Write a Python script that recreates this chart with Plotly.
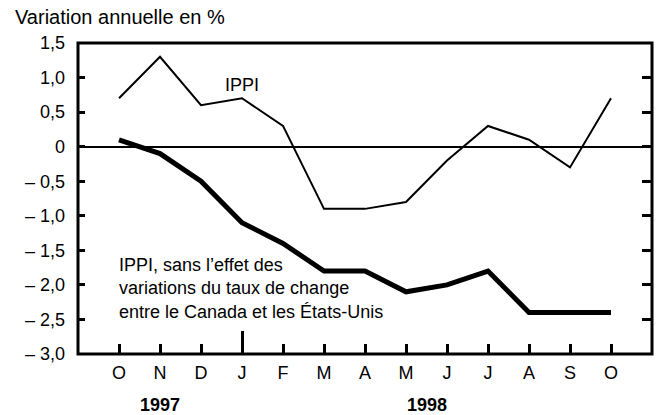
import plotly.graph_objects as go

months = ["O", "N", "D", "J", "F", "M", "A", "M", "J", "J", "A", "S", "O"]
years = ["1997", "1998"]
year_of_month = [0, 0, 0, 1, 1, 1, 1, 1, 1, 1, 1, 1, 1]
ippi = [0.7, 1.3, 0.6, 0.7, 0.3, -0.9, -0.9, -0.8, -0.2, 0.3, 0.1, -0.3, 0.7]
ippi_excl = [0.1, -0.1, -0.5, -1.1, -1.4, -1.8, -1.8, -2.1, -2.0, -1.8, -2.4, -2.4, -2.4]
ytick_vals = [1.5, 1.0, 0.5, 0, -0.5, -1.0, -1.5, -2.0, -2.5, -3.0]
ytick_text = ["1,5", "1,0", "0,5", "0", "\u2013\u00a00,5", "\u2013\u00a01,0", "\u2013\u00a01,5",
              "\u2013\u00a02,0", "\u2013\u00a02,5", "\u2013\u00a03,0"]

FONT = "Liberation Sans, Arial, sans-serif"
x = list(range(len(months)))

fig = go.Figure()
fig.add_trace(go.Scatter(x=x, y=ippi, mode="lines", line=dict(color="black", width=2),
                         showlegend=False, hoverinfo="skip"))
fig.add_trace(go.Scatter(x=x, y=ippi_excl, mode="lines", line=dict(color="black", width=5),
                         showlegend=False, hoverinfo="skip"))
# invisible trace on secondary axes to activate them (extra tick marks)
fig.add_trace(go.Scatter(x=[x[0]], y=[ytick_vals[0]], xaxis="x2", yaxis="y2", mode="markers",
                         marker=dict(opacity=0), showlegend=False, hoverinfo="skip"))

year_start = year_of_month.index(1)
fig.update_layout(
    width=656, height=415,
    margin=dict(l=78, r=4, t=43, b=61),
    paper_bgcolor="white", plot_bgcolor="white",
    font=dict(family=FONT, size=18, color="black"),
    xaxis=dict(range=[-1, len(months)], tickvals=x, ticktext=months,
               ticks="inside", ticklen=10, tickwidth=3, tickcolor="black",
               showline=False, showgrid=False, zeroline=False, ticklabelstandoff=6,
               tickfont=dict(size=18)),
    yaxis=dict(range=[-3, 1.5], tickvals=ytick_vals, ticktext=ytick_text,
               ticks="inside", ticklen=7, tickwidth=3, tickcolor="black",
               showline=False, showgrid=False,
               zeroline=True, zerolinewidth=2, zerolinecolor="black",
               ticklabelstandoff=12, tickfont=dict(size=18)),
    xaxis2=dict(overlaying="x", matches="x", side="bottom", tickvals=[year_start],
                ticks="inside", ticklen=23, tickwidth=3, tickcolor="black",
                showticklabels=False, showline=False, showgrid=False, zeroline=False),
    yaxis2=dict(overlaying="y", matches="y", side="right", tickvals=ytick_vals,
                ticks="inside", ticklen=10, tickwidth=3, tickcolor="black",
                showticklabels=False, showline=False, showgrid=False, zeroline=False),
    title=dict(text="Variation annuelle en %", x=15/656, xanchor="left", xref="container",
               y=1-17/415, yanchor="middle", yref="container",
               font=dict(family=FONT, size=20)),
)

# plot frame
fig.add_shape(type="rect", xref="paper", yref="paper", x0=0, y0=0, x1=1, y1=1,
              line=dict(color="black", width=3), fillcolor="rgba(0,0,0,0)", layer="above")

# year labels centred under their months
for yi, yr in enumerate(years):
    idx = [i for i, v in enumerate(year_of_month) if v == yi]
    fig.add_annotation(x=sum(idx)/len(idx), xref="x", y=-0.164, yref="paper",
                       text=f"<b>{yr}</b>", showarrow=False, yanchor="middle",
                       font=dict(family=FONT, size=18))

fig.add_annotation(x=3, y=0.89, xref="x", yref="y", text="IPPI", showarrow=False,
                   font=dict(family=FONT, size=18))
fig.add_annotation(x=-0.05, y=-2.05, xref="x", yref="y", xanchor="left", align="left",
                   text="IPPI, sans l\u2019effet des<br>variations du taux de change<br>entre le Canada et les \u00c9tats-Unis",
                   showarrow=False, font=dict(family=FONT, size=18))

fig.write_html("out.html", config={"displayModeBar": False},
               post_script="document.body.style.margin='0';document.body.style.padding='0';")
